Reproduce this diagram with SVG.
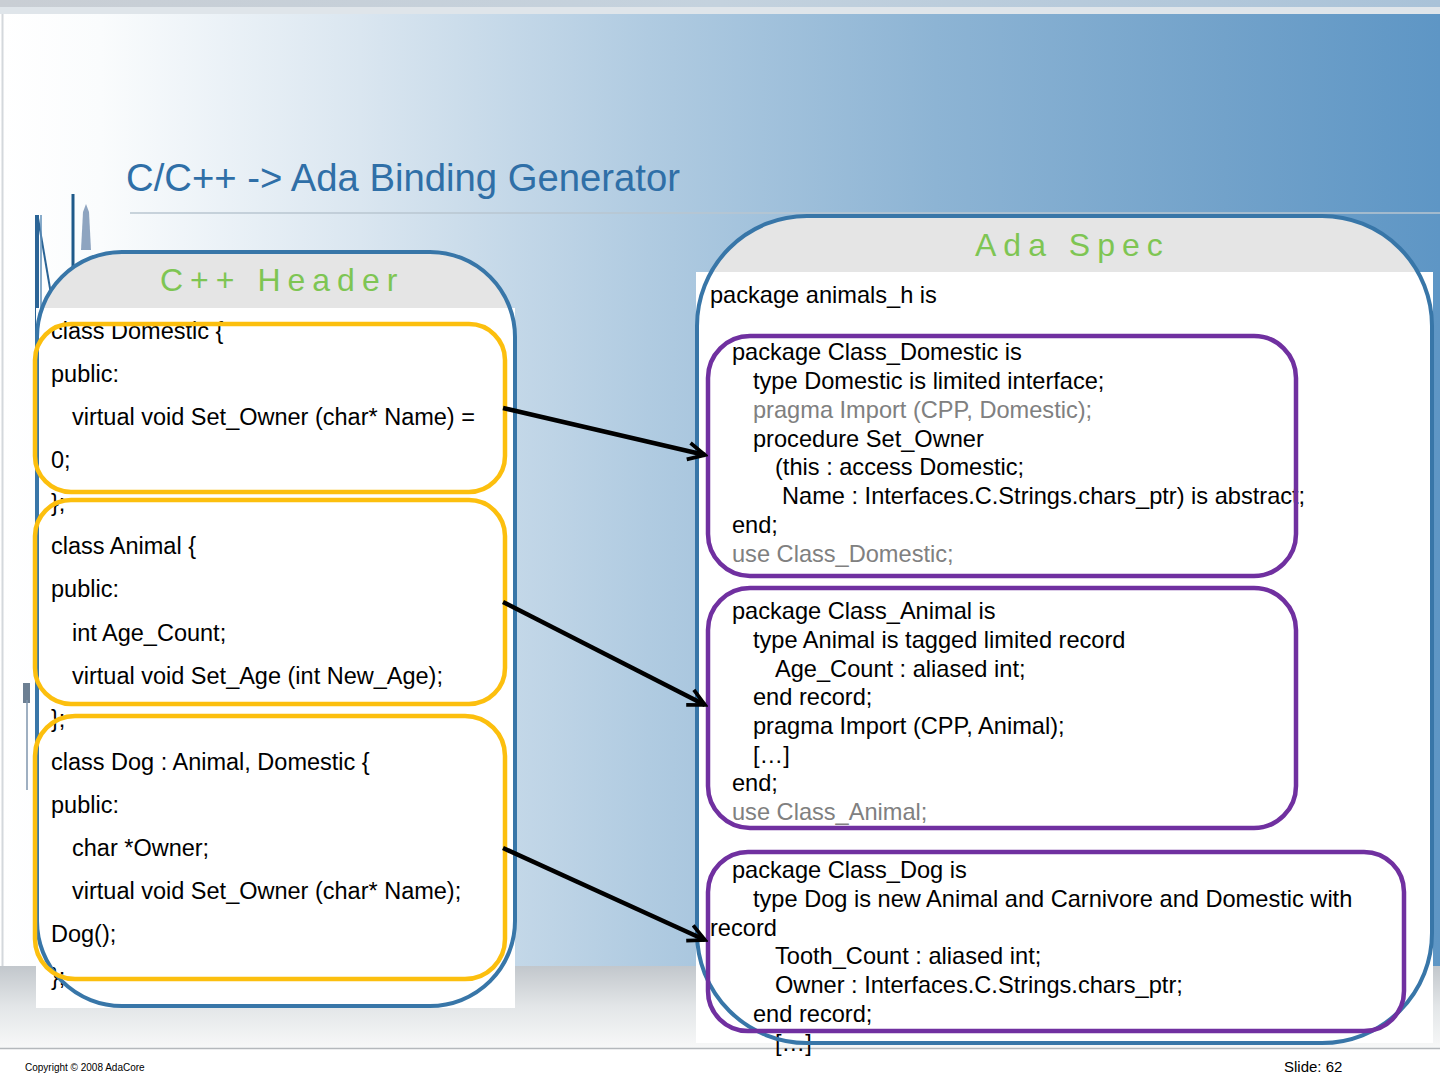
<svg xmlns="http://www.w3.org/2000/svg" width="1440" height="1080" viewBox="0 0 1440 1080">
<defs>
  <linearGradient id="bg" x1="0" y1="0" x2="1" y2="0">
    <stop offset="0" stop-color="#ffffff"/>
    <stop offset="0.07" stop-color="#fafcfd"/>
    <stop offset="0.25" stop-color="#dae6f0"/>
    <stop offset="0.45" stop-color="#b0cbe1"/>
    <stop offset="0.65" stop-color="#8db4d4"/>
    <stop offset="0.85" stop-color="#72a2ca"/>
    <stop offset="1" stop-color="#5e96c5"/>
  </linearGradient>
  <linearGradient id="topband" x1="0" y1="0" x2="1" y2="0">
    <stop offset="0" stop-color="#c9ced4"/>
    <stop offset="0.5" stop-color="#c4d2de"/>
    <stop offset="1" stop-color="#a9c2d8"/>
  </linearGradient>
  <linearGradient id="botband" x1="0" y1="0" x2="0" y2="1">
    <stop offset="0" stop-color="#c2c7cc"/>
    <stop offset="0.5" stop-color="#e3e6e8"/>
    <stop offset="1" stop-color="#f7f8f8"/>
  </linearGradient>
  <clipPath id="cppclip"><rect x="37" y="252" width="478" height="754" rx="85" ry="85"/></clipPath>
  <clipPath id="adaclip"><rect x="697" y="216" width="735" height="829" rx="110" ry="110"/></clipPath>
  <marker id="open" viewBox="0 0 20 20" refX="17" refY="10" markerWidth="21" markerHeight="21" markerUnits="userSpaceOnUse" orient="auto">
    <path d="M1,2 L17,10 L1,18" fill="none" stroke="#000" stroke-width="3.5"/>
  </marker>
  <style>
    .code { font-family: "Liberation Sans", Arial, sans-serif; font-size: 23.5px; fill: #000; }
    .ada { font-family: "Liberation Sans", Arial, sans-serif; font-size: 23.6px; fill: #000; }
    .dim { fill: #808080; }
    .hdr { font-family: "Liberation Sans", Arial, sans-serif; font-size: 32px; fill: #7ec553; letter-spacing: 7px; }
    .panel { fill: none; stroke: #3876a8; stroke-width: 4; }
    .ybox { fill: none; stroke: #fcbf0e; stroke-width: 4.5; }
    .pbox { fill: none; stroke: #7030a0; stroke-width: 4.5; }
    .conn { stroke: #000; stroke-width: 4.5; fill: none; marker-end: url(#open); }
  </style>
</defs>

<!-- background -->
<rect x="0" y="0" width="1440" height="1080" fill="#ffffff"/>
<rect x="0" y="14" width="1440" height="956" fill="url(#bg)"/>
<rect x="0" y="0" width="1440" height="7" fill="url(#topband)"/>
<rect x="0" y="7" width="1440" height="7" fill="#dfe5ea"/>
<line x1="2.5" y1="14" x2="2.5" y2="968" stroke="#d4d8dc" stroke-width="2"/>
<rect x="0" y="966" width="1440" height="82" fill="url(#botband)"/>
<line x1="0" y1="1048.5" x2="1440" y2="1048.5" stroke="#b4b8bc" stroke-width="1.5"/>

<!-- decorative skyline -->
<g id="decor">
  <line x1="37" y1="215" x2="37" y2="600" stroke="#2b6496" stroke-width="4"/>
  <line x1="38" y1="218" x2="52" y2="300" stroke="#2b6496" stroke-width="2"/>
  <line x1="41" y1="215" x2="41" y2="720" stroke="#5f8fb8" stroke-width="1.5"/>
  <line x1="73" y1="194" x2="73" y2="290" stroke="#1f5a8a" stroke-width="3"/>
  <polygon points="81,250 83,212 86,204 89,212 91,250" fill="#8ea4c0"/>
  <rect x="23" y="683" width="7" height="20" fill="#6c7f92"/>
  <line x1="27" y1="700" x2="27" y2="790" stroke="#7e95ad" stroke-width="1.5"/>
</g>

<!-- title -->
<g id="title">
  <text x="126" y="191" font-family="Liberation Sans, Arial, sans-serif" font-size="38" fill="#2f6fa7" textLength="554" lengthAdjust="spacingAndGlyphs">C/C++ -&gt; Ada Binding Generator</text>
  <line x1="130" y1="213" x2="1440" y2="213" stroke="#b9c6d0" stroke-width="1.5"/>
</g>

<!-- C++ Header panel -->
<g id="cpp-header">
  <rect x="36" y="252" width="479" height="60" fill="#e5e5e5" clip-path="url(#cppclip)"/>
  <rect x="36" y="308" width="479" height="700" fill="#ffffff"/>
  <text class="hdr" x="160" y="291">C++ Header</text>
  <g class="code">
    <text x="51" y="339">class Domestic {</text>
    <text x="51" y="382">public:</text>
    <text x="72" y="425">virtual void Set_Owner (char* Name) =</text>
    <text x="51" y="468">0;</text>
    <text x="51" y="511">};</text>
    <text x="51" y="554">class Animal {</text>
    <text x="51" y="597">public:</text>
    <text x="72" y="641">int Age_Count;</text>
    <text x="72" y="684">virtual void Set_Age (int New_Age);</text>
    <text x="51" y="727">};</text>
    <text x="51" y="770">class Dog : Animal, Domestic {</text>
    <text x="51" y="813">public:</text>
    <text x="72" y="856">char *Owner;</text>
    <text x="72" y="899">virtual void Set_Owner (char* Name);</text>
    <text x="51" y="942">Dog();</text>
    <text x="51" y="985">};</text>
  </g>
  <rect class="panel" x="37" y="252" width="478" height="754" rx="85" ry="85"/>
</g>

<g id="cpp-domestic"><rect class="ybox" x="35" y="324" width="470" height="168" rx="36" ry="36"/></g>
<g id="cpp-animal"><rect class="ybox" x="35" y="500" width="470" height="204" rx="36" ry="36"/></g>
<g id="cpp-dog"><rect class="ybox" x="35" y="716" width="470" height="263" rx="40" ry="40"/></g>

<!-- Ada Spec panel -->
<g id="ada-spec">
  <rect x="696" y="216" width="737" height="60" fill="#e5e5e5" clip-path="url(#adaclip)"/>
  <rect x="696" y="272" width="737" height="771" fill="#ffffff"/>
  <text class="hdr" x="975" y="256" font-size="31">Ada Spec</text>
  <g class="ada">
    <text x="710" y="303">package animals_h is</text>

    <text x="732" y="360">package Class_Domestic is</text>
    <text x="753" y="389">type Domestic is limited interface;</text>
    <text x="753" y="418" class="dim">pragma Import (CPP, Domestic);</text>
    <text x="753" y="447">procedure Set_Owner</text>
    <text x="775" y="475">(this : access Domestic;</text>
    <text x="782" y="504">Name : Interfaces.C.Strings.chars_ptr) is abstract;</text>
    <text x="732" y="533">end;</text>
    <text x="732" y="562" class="dim">use Class_Domestic;</text>

    <text x="732" y="619">package Class_Animal is</text>
    <text x="753" y="648">type Animal is tagged limited record</text>
    <text x="775" y="677">Age_Count : aliased int;</text>
    <text x="753" y="705">end record;</text>
    <text x="753" y="734">pragma Import (CPP, Animal);</text>
    <text x="753" y="763">[…]</text>
    <text x="732" y="791">end;</text>
    <text x="732" y="820" class="dim">use Class_Animal;</text>

    <text x="732" y="878">package Class_Dog is</text>
    <text x="753" y="907">type Dog is new Animal and Carnivore and Domestic with</text>
    <text x="710" y="936">record</text>
    <text x="775" y="964">Tooth_Count : aliased int;</text>
    <text x="775" y="993">Owner : Interfaces.C.Strings.chars_ptr;</text>
    <text x="753" y="1022">end record;</text>
    <text x="775" y="1051">[…]</text>
  </g>
  <rect class="panel" x="697" y="216" width="735" height="827" rx="110" ry="110"/>
</g>

<g id="ada-domestic"><rect class="pbox" x="708" y="336" width="588" height="240" rx="42" ry="42"/></g>
<g id="ada-animal"><rect class="pbox" x="708" y="588" width="588" height="240" rx="42" ry="42"/></g>
<g id="ada-dog"><rect class="pbox" x="708" y="852" width="696" height="179" rx="40" ry="40"/></g>

<!-- connectors -->
<g id="connectors">
  <line class="conn" x1="503" y1="408" x2="705" y2="455"/>
  <line class="conn" x1="503" y1="602" x2="705" y2="705"/>
  <line class="conn" x1="503" y1="848" x2="705" y2="940"/>
</g>

<!-- footer -->
<g id="footer">
  <text x="25" y="1071" font-family="Liberation Sans, Arial, sans-serif" font-size="10" fill="#000">Copyright © 2008 AdaCore</text>
  <text x="1284" y="1072" font-family="Liberation Sans, Arial, sans-serif" font-size="15" fill="#000">Slide: 62</text>
</g>
</svg>
